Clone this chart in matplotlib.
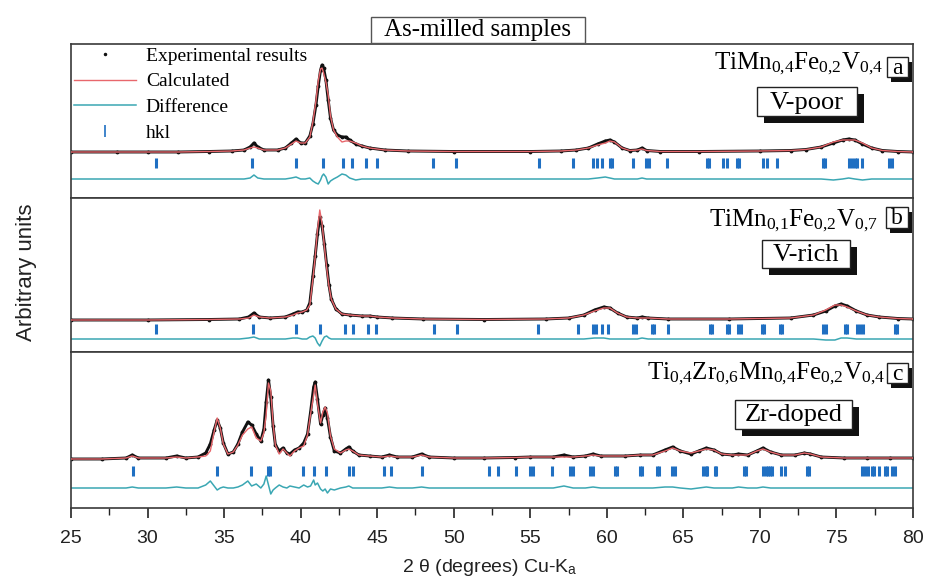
import numpy as np
import matplotlib
matplotlib.use('Agg')
import matplotlib.pyplot as plt
from matplotlib.patches import Rectangle

plt.rcParams['font.family'] = ['Liberation Sans', 'DejaVu Sans']
plt.rcParams['mathtext.fontset'] = 'custom'
plt.rcParams['mathtext.rm'] = 'Liberation Serif'
plt.rcParams['mathtext.it'] = 'Liberation Serif:italic'

# ==================== data (2theta in deg, intensity in arbitrary units) ====================
a_theta = [25, 28, 30, 32, 34, 35.5, 36.3, 36.7, 36.95, 37.2, 37.6, 38.5, 39.0, 39.4, 39.7,
           40.0, 40.3, 40.6, 40.8, 41.0, 41.15, 41.3, 41.4, 41.5, 41.65, 41.8, 41.95, 42.15,
           42.4, 42.7, 42.95, 43.2, 43.6, 44.0, 44.5, 45.5, 47, 50, 55, 57, 58, 58.8, 59.4,
           59.9, 60.2, 60.5, 61.0, 61.5, 62.0, 62.3, 62.6, 63.5, 66, 70, 72, 73, 74, 74.8,
           75.4, 75.8, 76.2, 76.7, 77.3, 78, 79, 80]
a_obs = [0, 0, 0, 0, 0.5, 1, 2, 5, 9, 5, 2, 2, 4, 9, 13,
         9, 9, 16, 28, 47, 66, 82, 87, 84, 72, 52, 34, 22,
         17, 15, 15, 12, 8, 6, 4, 2, 1, 0.5, 0.5, 1, 2, 4, 8,
         11, 12, 10, 4, 1.5, 2, 4, 1.5, 0.5, 0.5, 1, 1.5, 2.5, 5, 9,
         12, 13, 12, 8, 4, 1.5, 0.5, 0]
a_diff = [0, 0, 0, 0, 0, 0, 0, 1, 4, 1, 0, 0, 0, 1, 2,
          0, 0, 1, -2, -4, -5, -1, 3, 5, 2, -5, -2, 0,
          2, 5, 4, 1, -1, 0, 0, 0, 0, 0, 0, 0, 0, 0, 1,
          2, 1, 0, 0, 0, 0, 1, 0, 0, 0, 0, 0, 0, 0, -1,
          0, 1, 0, -1, 0, 0, 0, 0]
a_hkl = [30.55, 36.80, 39.70, 41.44, 42.75, 43.33, 44.27, 44.97, 48.62, 50.14, 55.6,
         57.81, 59.07, 59.33, 59.66, 60.20, 60.33, 61.72, 62.59, 62.76, 63.90, 66.52,
         66.69, 67.60, 67.82, 68.48, 68.63, 70.22, 70.44, 71.09, 74.14, 74.25, 75.84,
         75.99, 76.21, 76.36, 76.65, 78.46, 78.61]

b_theta = [25, 30, 34, 36, 36.6, 36.95, 37.3, 38, 39, 39.5, 39.8, 40.1, 40.4, 40.6, 40.8,
           40.95, 41.1, 41.25, 41.4, 41.55, 41.7, 41.85, 42.0, 42.3, 42.7, 43.2, 44.0, 44.5,
           45, 46, 48, 52, 56, 57.5, 58.5, 59.2, 59.8, 60.2, 60.7, 61.3, 62.0, 62.3, 62.7,
           64, 68, 72, 73.5, 74.3, 74.9, 75.3, 75.7, 76.3, 77, 77.8, 79, 80]
b_obs = [0, 0, 0.5, 1, 3, 7, 3, 2, 3, 6, 8, 8, 10, 17, 44,
         64, 86, 103, 94, 76, 55, 35, 21, 11, 6, 5, 4, 4,
         3, 2, 1, 0.5, 1, 2, 5, 10, 13, 12, 7, 3, 2, 3, 2,
         1, 1, 2, 5, 9, 14, 16, 14, 9, 5, 3, 1.5, 1]
b_diff = [0, 0, 0, 0, 1, 2, 0, 0, 0, 1, 1, 0, 0, 2, 3,
          1, -4, -7, -2, 2, 3, 1, 0, 0, 0, 0, 0, 0,
          0, 0, 0, 0, 0, 0, 0, 1, 1, 0, 0, 0, 0, 1, 0,
          0, 0, 0, 0, -1, -1, 1, 1, 0, 0, 0, 0, 0]
b_hkl = [30.55, 36.87, 39.70, 41.26, 42.90, 43.44, 44.42, 44.90, 48.70, 50.20, 55.5,
         58.10, 59.10, 59.30, 59.70, 60.10, 61.73, 61.88, 62.93, 63.08, 64.01, 66.74,
         66.89, 67.83, 67.98, 68.59, 68.74, 70.11, 70.26, 71.31, 71.46, 74.14, 74.29,
         75.56, 75.71, 76.32, 76.54, 76.75, 78.82, 78.97]

c_theta = [25, 27, 28.6, 29.0, 29.4, 31.2, 31.9, 32.5, 33.3, 33.8, 34.1, 34.35, 34.55, 34.75,
           34.95, 35.25, 35.6, 35.9, 36.2, 36.55, 36.8, 37.1, 37.4, 37.6, 37.75, 37.9, 38.05,
           38.2, 38.35, 38.6, 38.85, 39.1, 39.3, 39.6, 39.9, 40.2, 40.45, 40.65, 40.85, 40.95,
           41.1, 41.3, 41.45, 41.6, 41.75, 41.95, 42.2, 42.6, 42.95, 43.15, 43.4, 43.8, 44.5,
           45.3, 45.8, 46.3, 47.3, 47.9, 48.4, 50, 52, 54, 55, 56.5, 57.2, 57.8, 58.6, 59.1,
           59.6, 61.2, 62.2, 63.0, 63.8, 64.3, 64.8, 65.5, 66.0, 66.5, 67.0, 67.5, 68.2, 68.6,
           69.2, 69.8, 70.2, 70.7, 71.4, 72.3, 72.9, 73.3, 74, 75.5, 77, 78.5, 80]
c_obs = [0, 0, 1, 4, 1, 1, 3, 1, 2, 6, 15, 29, 39, 31,
         16, 5, 7, 15, 27, 37, 34, 25, 18, 30, 57, 79, 62,
         33, 14, 8, 11, 6, 5, 9, 11, 16, 25, 47, 72, 77,
         60, 35, 44, 51, 41, 22, 8, 6, 10, 12, 8, 4, 3,
         2, 4, 2, 2, 5, 2, 1, 1, 1.5, 2, 2, 4, 2, 3, 5,
         3, 3, 4, 4, 9, 12, 8, 5, 8, 11, 9, 5, 4, 5,
         4, 8, 11, 7, 4, 4, 6, 5, 2, 1, 1, 1, 1]
c_diff = [0, 0, 0, 1, 0, 0, 1, 0, 0, 3, 7, 2, -2, 0,
          1, 0, 0, 1, 3, 7, 2, 4, 0, 4, 12, 3, -6,
          -2, 0, 3, 1, 0, 2, 1, 0, 3, 1, 2, 8, 3,
          5, -1, -3, -1, -5, -1, -2, 0, 1, 2, 0, 0, 0,
          0, 1, 0, 0, 1, 0, 0, 0, 0, 0, 0, 2, 0, 0, 1,
          0, 0, 0, 0, 1, 1, 0, -1, 0, 1, 0, 0, 0, 1,
          0, 0, 1, 0, 0, 0, 0, 0, 0, 0, 0, 0, 0]
c_hkl = [29.03, 34.52, 36.74, 37.89, 38.0, 40.13, 40.87, 41.63, 43.14, 43.44, 45.44, 45.88,
         47.9, 52.3, 52.9, 54.1, 55.0, 55.2, 56.4, 57.6, 57.8, 58.9, 59.1, 60.53, 60.64,
         62.16, 62.27, 63.25, 63.42, 64.29, 64.44, 66.29, 66.47, 66.55, 67.05, 67.16, 68.95,
         69.06, 70.21, 70.39, 70.54, 70.69, 70.76, 71.41, 71.63, 73.05, 73.22, 76.64, 76.85,
         77.07, 77.29, 77.44, 77.79, 78.16, 78.31, 78.66, 78.81]

formulas = [r'TiMn$_{\rm 0{,}4}$Fe$_{\rm 0{,}2}$V$_{\rm 0{,}4}$',
            r'TiMn$_{\rm 0{,}1}$Fe$_{\rm 0{,}2}$V$_{\rm 0{,}7}$',
            r'Ti$_{\rm 0{,}4}$Zr$_{\rm 0{,}6}$Mn$_{\rm 0{,}4}$Fe$_{\rm 0{,}2}$V$_{\rm 0{,}4}$']
letters = ['a', 'b', 'c']
tags = ['V-poor', 'V-rich', 'Zr-doped']

# ==================== layout ====================
W, H = 928, 579
fig = plt.figure(figsize=(W / 100, H / 100), dpi=100)

def fx(px):
    return px / W

def fy(py):
    return 1 - py / H

X0, X1 = 71, 913
panels = [
    # (top px, bottom px, ylim, hkl row, diff offset)
    (44, 198, (-46, 108), -11, -27),
    (198, 352, (-32, 122), -9, -19),
    (352, 508, (-49, 107), -12, -29),
]
# label geometry in px: formula right end / baseline, letter box, tag box
label_geo = [
    (883, 69, (887, 57, 908, 77), (757, 87, 857, 116)),
    (878, 226, (886, 207, 908, 228), (762, 240, 850, 268)),
    (885, 379, (887, 363, 908, 383), (735, 400, 852, 429)),
]

datasets = [(a_theta, a_obs, a_diff, a_hkl),
            (b_theta, b_obs, b_diff, b_hkl),
            (c_theta, c_obs, c_diff, c_hkl)]

c_exp = '#111111'
c_calc = '#e8676c'
c_diff_col = '#3aa7b3'
c_hkl = '#1f6fc2'

axes = []
for i, ((top, bot, ylim, hkl_y, d_off), (th, obs, dif, hkl)) in enumerate(zip(panels, datasets)):
    ax = fig.add_axes([fx(X0), fy(bot), fx(X1) - fx(X0), fy(top) - fy(bot)])
    th = np.array(th)
    obs = np.array(obs, dtype=float)
    dif = np.array(dif, dtype=float)
    calc = obs - dif
    ax.plot(th, obs, color=c_exp, lw=2.1, zorder=2)
    ax.plot(th, obs, ls='none', marker='.', ms=3.5, color=c_exp, zorder=2,
            label='Experimental results')
    ax.plot(th, calc, color=c_calc, lw=1.0, zorder=3, label='Calculated')
    ax.plot(th, dif + d_off, color=c_diff_col, lw=1.1, zorder=2, label='Difference')
    ax.plot(hkl, np.full(len(hkl), hkl_y), ls='none', marker='|', ms=7.5, mew=2.2,
            color=c_hkl, zorder=2, label='hkl')
    ax.set_xlim(25, 80)
    ax.set_ylim(*ylim)
    ax.set_yticks([])
    for s in ax.spines.values():
        s.set_color('#3a3a3a')
        s.set_linewidth(1.2)
    if i < 2:
        ax.tick_params(axis='x', bottom=False, labelbottom=False)
    axes.append(ax)

# legend in top panel
leg = axes[0].legend(loc='upper left', bbox_to_anchor=(0.0, 1.0), borderaxespad=0.1,
                     borderpad=0.05, frameon=False, handlelength=3.2, handletextpad=0.5,
                     labelspacing=0.42, numpoints=1,
                     prop={'family': 'Liberation Serif', 'size': 14})
for h in leg.legend_handles:
    if h.get_label() == 'hkl':
        h.set_markersize(9)
        h.set_markeredgewidth(1.2)
    if h.get_label() == 'Experimental results':
        h.set_markersize(3)

# bottom axis
axb = axes[2]
axb.set_xticks(np.arange(25, 81, 5))
axb.set_xticks(np.arange(27.5, 80, 5), minor=True)
axb.tick_params(axis='x', which='major', direction='out', length=7, width=1.2,
                labelsize=14, pad=9, colors='#222222')
axb.tick_params(axis='x', which='minor', direction='out', length=5, width=1.0,
                colors='#222222')

fig.text(fx(490), fy(567), r'2 θ (degrees) Cu-K$_{\mathregular{a}}$', ha='center', va='center',
         fontsize=14, color='#222222')
fig.text(fx(27), fy(272), 'Arbitrary units', rotation=90, ha='center', va='center',
         fontsize=16, color='#222222')

# title box
fig.text(fx(478), fy(30), '  As-milled samples  ', ha='center', va='center',
         fontsize=18, family='Liberation Serif',
         bbox=dict(boxstyle='square,pad=0.08', fc='white', ec='#555555', lw=1.0))


def shadow_box(x0, y0, x1, y1, text, size, dx, dy):
    fig.add_artist(Rectangle((fx(x0 + dx), fy(y1 + dy)), fx(x1 - x0), fy(y0) - fy(y1),
                             transform=fig.transFigure, fc='#111111', ec='none', zorder=5))
    fig.add_artist(Rectangle((fx(x0), fy(y1)), fx(x1 - x0), fy(y0) - fy(y1),
                             transform=fig.transFigure, fc='white', ec='#222222', lw=1.0,
                             zorder=6))
    fig.text(fx((x0 + x1) / 2), fy((y0 + y1) / 2 + 1), text, ha='center', va='center',
             fontsize=size, family='Liberation Serif', zorder=7)


for (fr, fb, lbox, tbox), form, let, tag in zip(label_geo, formulas, letters, tags):
    fig.text(fx(fr), fy(fb), form, ha='right', va='baseline', fontsize=18,
             family='Liberation Serif', zorder=7)
    shadow_box(*lbox, let, 17, 4, 5)
    shadow_box(*tbox, tag, 19, 7, 7)

fig.savefig('out.png', dpi=100)
